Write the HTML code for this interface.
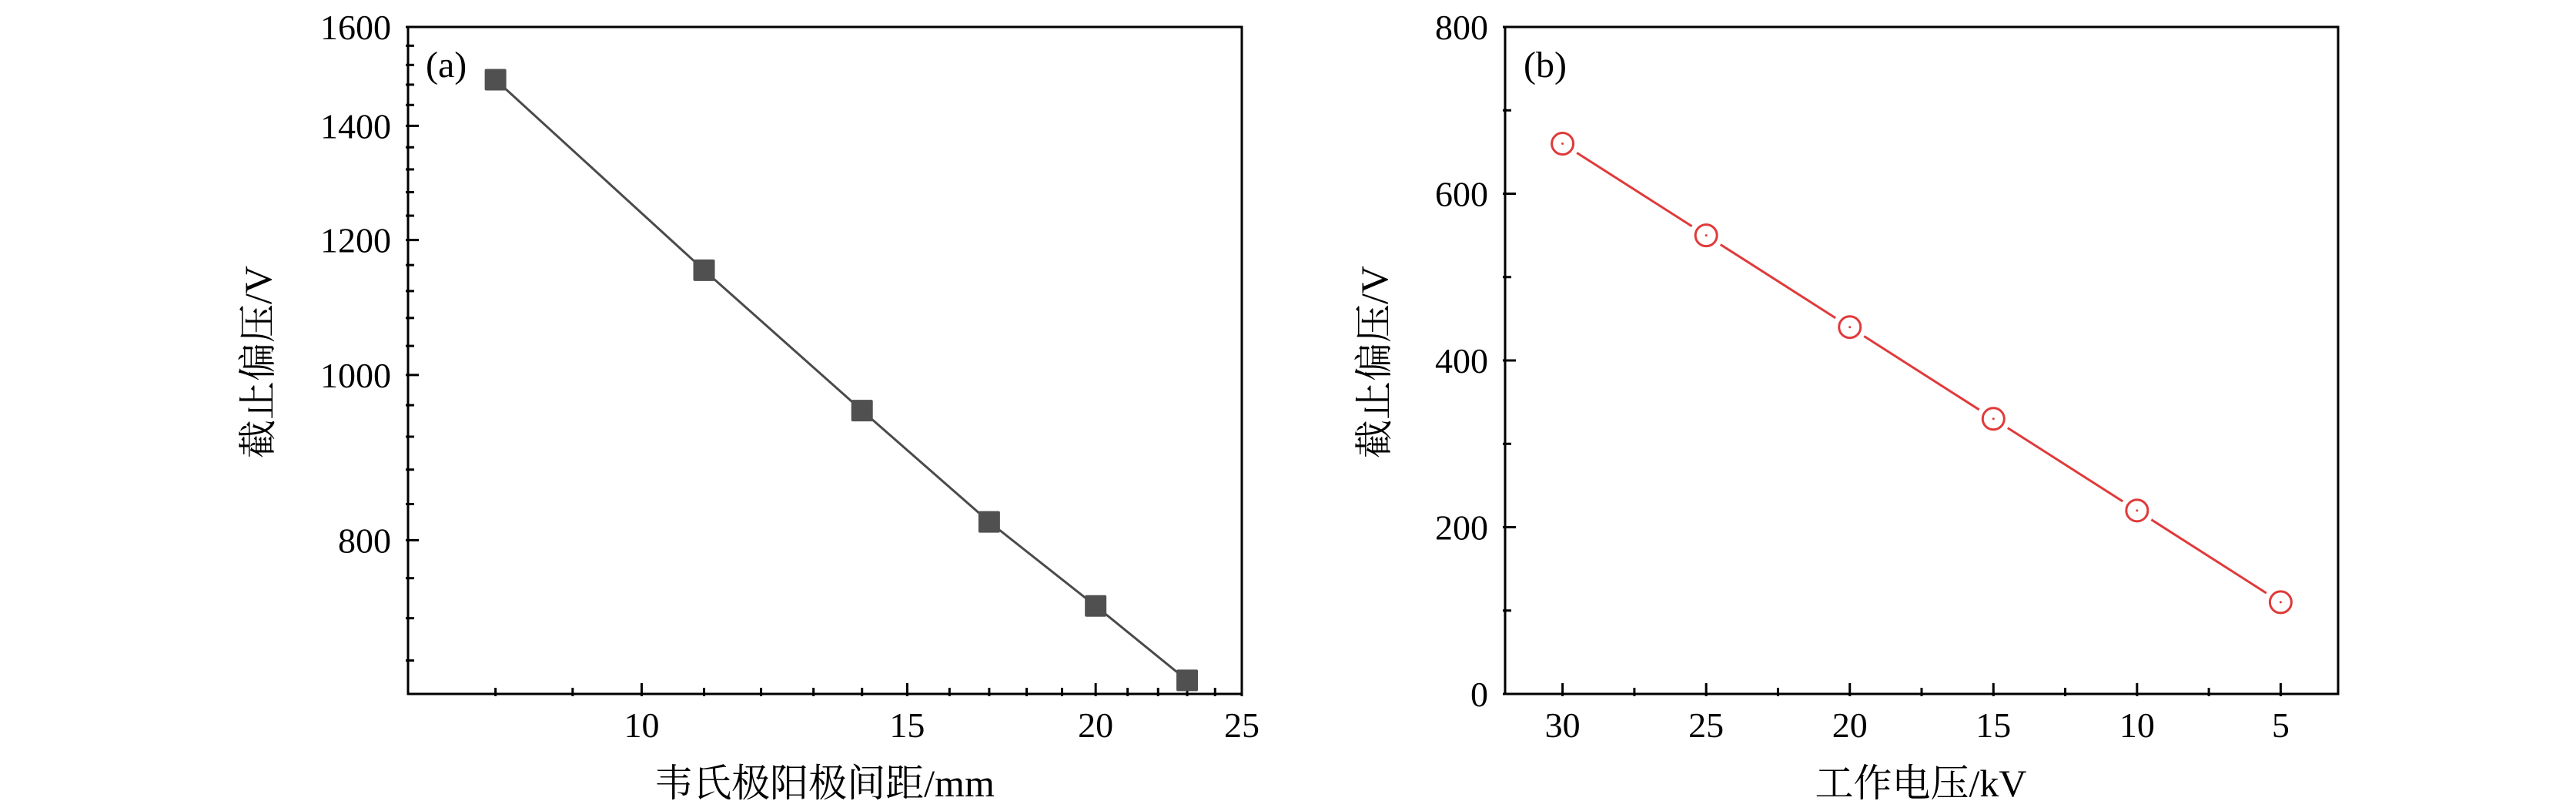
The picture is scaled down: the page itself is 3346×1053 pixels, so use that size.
<!DOCTYPE html>
<html><head><meta charset="utf-8"><style>
html,body{margin:0;padding:0;background:#fff}
svg{display:block}
svg text{font-family:"Liberation Serif","Noto Serif CJK SC","Noto Sans CJK SC",serif;fill:#000}
</style></head><body>
<svg id="fig" width="3346" height="1053" viewBox="0 0 3346 1053" xmlns="http://www.w3.org/2000/svg" font-family="'Liberation Serif','Noto Serif CJK SC',serif">
<g id="pa"></g>
<g id="pb"></g>
</svg>
<script>
// Panel (a) data
const aX = [8, 11, 14, 17, 20, 23];
const aY = [1490, 1152, 953, 820, 732, 662];
const aXTicks = [10, 15, 20, 25];
const aXMinor = [8, 9, 11, 12, 13, 14, 16, 17, 18, 19, 21, 22, 23, 24];
const aYTicks = [800, 1000, 1200, 1400, 1600];
const aYMinor = [680, 720, 760, 840, 880, 920, 960, 1040, 1080, 1120, 1160, 1240, 1280, 1320, 1360, 1440, 1480, 1520, 1560];
// Panel (b) data
const bX = [30, 25, 20, 15, 10, 5];
const bY = [660, 550, 440, 330, 220, 110];
const bXTicks = [30, 25, 20, 15, 10, 5];
const bXMinor = [27.5, 22.5, 17.5, 12.5, 7.5];
const bYTicks = [0, 200, 400, 600, 800];
const bYMinor = [100, 300, 500, 700];

const NS = "http://www.w3.org/2000/svg";
const FF = "'Liberation Serif','Noto Serif CJK SC','Noto Sans CJK SC',serif";
function mk(parent, tag, attrs, txt){
  const e = document.createElementNS(NS, tag);
  for (const k in attrs) e.setAttribute(k, attrs[k]);
  if (tag === 'text') e.setAttribute('font-family', FF);
  if (txt !== undefined) e.textContent = txt;
  parent.appendChild(e);
  return e;
}

const A = {L:530, R:1613, T:35, B:901, xmin:7.0, xmax:25, ymin:650, ymax:1600};
function axX(v){ return A.L + (Math.log(v)-Math.log(A.xmin))/(Math.log(A.xmax)-Math.log(A.xmin))*(A.R-A.L); }
function ayY(v){ return A.B - (Math.log(v)-Math.log(A.ymin))/(Math.log(A.ymax)-Math.log(A.ymin))*(A.B-A.T); }
const Bp = {L:1955, R:3037, T:35, B:901, xmin:32, xmax:3, ymin:0, ymax:800};
function bxX(v){ return Bp.L + (v-Bp.xmin)/(Bp.xmax-Bp.xmin)*(Bp.R-Bp.L); }
function byY(v){ return Bp.B - (v-Bp.ymin)/(Bp.ymax-Bp.ymin)*(Bp.B-Bp.T); }

function frame(g, P, xs, xsMinor, ys, ysMinor, fx, fy, name){
  const r = mk(g,'rect',{x:P.L,y:P.T,width:P.R-P.L,height:P.B-P.T,fill:'none',stroke:'#000','stroke-width':3});
  
  
  xs.forEach(v=>{
    const x = fx(v);
    const t = mk(g,'line',{x1:x,x2:x,y1:P.B+3,y2:P.B-14,stroke:'#000','stroke-width':3});
    
    
    const l = mk(g,'text',{x:x,y:957,'font-size':46,'text-anchor':'middle'}, String(v));
    
    
  });
  xsMinor.forEach(v=>{
    const x = fx(v);
    const t = mk(g,'line',{x1:x,x2:x,y1:P.B+3,y2:P.B-8,stroke:'#000','stroke-width':3});
    
    
  });
  ys.forEach(v=>{
    const y = fy(v);
    const t = mk(g,'line',{x1:P.L-3,x2:P.L+14,y1:y,y2:y,stroke:'#000','stroke-width':3});
    
    
    const l = mk(g,'text',{x:P.L-22,y:y+16,'font-size':46,'text-anchor':'end'}, String(v));
    
    
  });
  ysMinor.forEach(v=>{
    const y = fy(v);
    const t = mk(g,'line',{x1:P.L-3,x2:P.L+8,y1:y,y2:y,stroke:'#000','stroke-width':3});
    
    
  });
}

const ga = document.getElementById('pa');
frame(ga, A, aXTicks, aXMinor, aYTicks, aYMinor, axX, ayY, 'a');
let pts = aX.map((v,i)=>axX(v)+','+ayY(aY[i])).join(' ');
const la = mk(ga,'polyline',{points:pts,fill:'none',stroke:'#4a4a4a','stroke-width':3});


aX.forEach((v,i)=>{
  const s = mk(ga,'rect',{x:axX(v)-14,y:ayY(aY[i])-14,width:28,height:28,rx:2,fill:'#505050'});
  
  
});
let t;
t = mk(ga,'text',{x:553,y:100,'font-size':48}, '(a)');


t = mk(ga,'text',{x:1071,y:1034,'font-size':50,'text-anchor':'middle'}, '韦氏极阳极间距/mm');


t = mk(ga,'text',{x:0,y:0,'font-size':50,'text-anchor':'middle',transform:'translate(352,470) rotate(-90)'}, '截止偏压/V');



const gb = document.getElementById('pb');
frame(gb, Bp, bXTicks, bXMinor, bYTicks, bYMinor, bxX, byY, 'b');
const R = 14;
for (let i=0;i<bX.length-1;i++){
  const x1=bxX(bX[i]), y1=byY(bY[i]), x2=bxX(bX[i+1]), y2=byY(bY[i+1]);
  const d=Math.hypot(x2-x1,y2-y1), ux=(x2-x1)/d, uy=(y2-y1)/d, g=R+8;
  const s = mk(gb,'line',{x1:x1+ux*g,y1:y1+uy*g,x2:x2-ux*g,y2:y2-uy*g,stroke:'#e03a3a','stroke-width':3});
  
  
}
bX.forEach((v,i)=>{
  const c = mk(gb,'circle',{cx:bxX(v),cy:byY(bY[i]),r:R,fill:'none',stroke:'#e03a3a','stroke-width':3});
  
  
  const d = mk(gb,'circle',{cx:bxX(v),cy:byY(bY[i]),r:1.5,fill:'#e03a3a'});
  
  
});
t = mk(gb,'text',{x:1979,y:100,'font-size':48}, '(b)');


t = mk(gb,'text',{x:2495,y:1034,'font-size':50,'text-anchor':'middle'}, '工作电压/kV');


t = mk(gb,'text',{x:0,y:0,'font-size':50,'text-anchor':'middle',transform:'translate(1802,470) rotate(-90)'}, '截止偏压/V');


</script>
</body></html>
